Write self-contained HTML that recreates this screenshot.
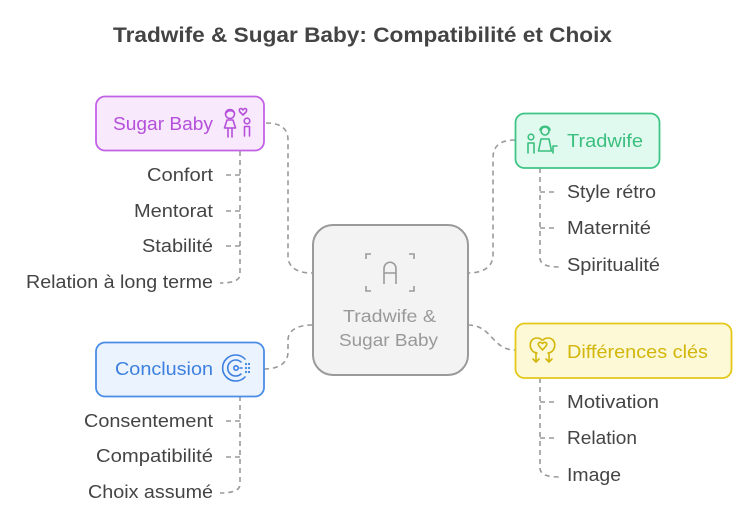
<!DOCTYPE html>
<html><head><meta charset="utf-8"><style>
html,body{margin:0;padding:0;background:#fff;}
svg{display:block;}
text{font-family:"Liberation Sans",Arial,sans-serif;}
</style></head><body>
<svg width="745" height="516" viewBox="0 0 745 516" xmlns="http://www.w3.org/2000/svg">
<!-- Title -->
<text x="113" y="42" font-size="21" font-weight="bold" fill="#444" textLength="499" lengthAdjust="spacingAndGlyphs">Tradwife &amp; Sugar Baby: Compatibilité et Choix</text>

<g fill="none" stroke="#9a9a9a" stroke-width="1.6" stroke-dasharray="5 4">
  <!-- main connectors -->
  <path d="M266,123 C280,123 288,128 288,140 L288,256 C288,268 298,273 312,273"/>
  <path d="M515,140 C500,140 493,146 493,158 L493,255 C493,267 483,273 468,273"/>
  <path d="M468,325 C492,325 492,350 515,350"/>
  <path d="M264,369 C280,369 288,362 288,352 L288,340 C288,330 298,325 312,325"/>
  <!-- Sugar Baby branch -->
  <path d="M240,151 L240,274 C240,280 234,283 220,283"/>
  <path d="M240,175 L222,175 M240,211 L222,211 M240,246 L222,246"/>
  <!-- Tradwife branch -->
  <path d="M540,168 L540,258 C540,264 546,267 560,267"/>
  <path d="M540,192 L558,192 M540,228 L558,228"/>
  <!-- Diff branch -->
  <path d="M540,378 L540,468 C540,474 546,477 560,477"/>
  <path d="M540,402 L558,402 M540,438 L558,438"/>
  <!-- Conclusion branch -->
  <path d="M240,396 L240,484 C240,490 234,493 220,493"/>
  <path d="M240,421 L222,421 M240,457 L222,457"/>
</g>

<!-- Center box -->
<rect x="313" y="225" width="155" height="150" rx="20" fill="#f3f3f3" stroke="#9a9a9a" stroke-width="2"/>
<g fill="none" stroke="#9a9a9a" stroke-width="1.6">
  <path d="M371,254 L366,254 L366,259 M409,254 L414,254 L414,259 M366,286 L366,291 L371,291 M414,286 L414,291 L409,291"/>
  <path d="M384,284 L384,269 C384,260 396,260 396,269 L396,284 M384,273 L396,273"/>
</g>
<text x="343" y="322" font-size="17.5" fill="#999" textLength="93" lengthAdjust="spacingAndGlyphs">Tradwife &amp;</text>
<text x="339" y="346" font-size="17.5" fill="#999" textLength="99" lengthAdjust="spacingAndGlyphs">Sugar Baby</text>

<!-- Sugar Baby box -->
<rect x="96" y="96.5" width="168" height="54" rx="9" fill="#f9e9fd" stroke="#c262e6" stroke-width="1.8"/>
<text x="113" y="130" font-size="18" fill="#b450da" textLength="100" lengthAdjust="spacingAndGlyphs">Sugar Baby</text>
<g fill="none" stroke="#b450da" stroke-width="1.6" stroke-linecap="round" stroke-linejoin="round">
  <circle cx="230" cy="114" r="4.5"/>
  <path d="M226,113 C228,110 233,110 234.5,113"/>
  <path d="M224.5,128 L227,120 L233,120 L235.5,128 Z"/>
  <path d="M228,128 L228,137 M232,128 L232,137"/>
  <path d="M240,112 C238,109 241,107 243,110 C245,107 248,109 246,112 L243,115 Z"/>
  <circle cx="247" cy="121" r="2.8"/>
  <path d="M244.5,136 L244.5,126.5 L249.5,126.5 L249.5,136"/>
</g>
<g fill="#444" font-size="18" text-anchor="end">
  <text x="213" y="181" textLength="66" lengthAdjust="spacingAndGlyphs">Confort</text>
  <text x="213" y="217" textLength="79" lengthAdjust="spacingAndGlyphs">Mentorat</text>
  <text x="213" y="252" textLength="71" lengthAdjust="spacingAndGlyphs">Stabilité</text>
  <text x="213" y="288" textLength="187" lengthAdjust="spacingAndGlyphs">Relation à long terme</text>
</g>

<!-- Tradwife box -->
<rect x="515.5" y="113.5" width="144" height="54.5" rx="9" fill="#e1faef" stroke="#3ec585" stroke-width="1.8"/>
<text x="567" y="147" font-size="18" fill="#3bbf7e" textLength="76" lengthAdjust="spacingAndGlyphs">Tradwife</text>
<g fill="none" stroke="#3bbf7e" stroke-width="1.6" stroke-linecap="round" stroke-linejoin="round">
  <circle cx="531" cy="137" r="2.8"/>
  <path d="M528,153 L528,143 L534,143 L534,153"/>
  <circle cx="545" cy="131" r="4"/>
  <path d="M540,130 C541,125 549,125 550,130"/>
  <path d="M538.5,151 L541,139 L549,139 L551.5,151 Z"/>
  <path d="M553,153 L553,146 L557,146"/>
</g>
<g fill="#444" font-size="18">
  <text x="567" y="198" textLength="89" lengthAdjust="spacingAndGlyphs">Style rétro</text>
  <text x="567" y="234" textLength="84" lengthAdjust="spacingAndGlyphs">Maternité</text>
  <text x="567" y="271" textLength="93" lengthAdjust="spacingAndGlyphs">Spiritualité</text>
</g>

<!-- Différences clés box -->
<rect x="515.5" y="323.5" width="216" height="54.5" rx="9" fill="#fdf8d6" stroke="#e4c81a" stroke-width="1.8"/>
<text x="567" y="358" font-size="18" fill="#d2b70a" textLength="141" lengthAdjust="spacingAndGlyphs">Différences clés</text>
<g fill="none" stroke="#d2b70a" stroke-width="1.6" stroke-linecap="round" stroke-linejoin="round">
  <path d="M537,353 C528,352 528,338 537,338 C540,338 542,340 542,340"/>
  <path d="M548,353 C557,352 557,338 548,338 C545,338 543,340 543,340"/>
  <path d="M542.5,350 L539,346 C537,343 540,341 542.5,343.5 C545,341 548,343 546,346 Z"/>
  <path d="M536,353 L536,362 M533,359 L536,362 L539,359"/>
  <path d="M549,353 L549,362 M546,359 L549,362 L552,359"/>
</g>
<g fill="#444" font-size="18">
  <text x="567" y="408" textLength="92" lengthAdjust="spacingAndGlyphs">Motivation</text>
  <text x="567" y="444" textLength="70" lengthAdjust="spacingAndGlyphs">Relation</text>
  <text x="567" y="481" textLength="54" lengthAdjust="spacingAndGlyphs">Image</text>
</g>

<!-- Conclusion box -->
<rect x="96" y="342.5" width="168" height="54" rx="9" fill="#eaf3fe" stroke="#4b8de6" stroke-width="1.8"/>
<text x="115" y="375" font-size="18" fill="#3d80df" textLength="98" lengthAdjust="spacingAndGlyphs">Conclusion</text>
<g fill="none" stroke="#3d80df" stroke-width="1.6" stroke-linecap="round">
  <path d="M245,359 A13,13 0 1 0 245,377"/>
  <path d="M241,362 A8,8 0 1 0 241,374"/>
  <circle cx="236" cy="368" r="2.2"/>
  <path d="M240,368 L242,368"/>
</g>
<g fill="#3d80df">
  <circle cx="246" cy="364" r="1.1"/><circle cx="249" cy="364" r="1.1"/>
  <circle cx="246" cy="368" r="1.1"/><circle cx="249" cy="368" r="1.1"/>
  <circle cx="246" cy="372" r="1.1"/><circle cx="249" cy="372" r="1.1"/>
</g>
<g fill="#444" font-size="18" text-anchor="end">
  <text x="213" y="427" textLength="129" lengthAdjust="spacingAndGlyphs">Consentement</text>
  <text x="213" y="462" textLength="117" lengthAdjust="spacingAndGlyphs">Compatibilité</text>
  <text x="213" y="498" textLength="125" lengthAdjust="spacingAndGlyphs">Choix assumé</text>
</g>
</svg>
</body></html>
